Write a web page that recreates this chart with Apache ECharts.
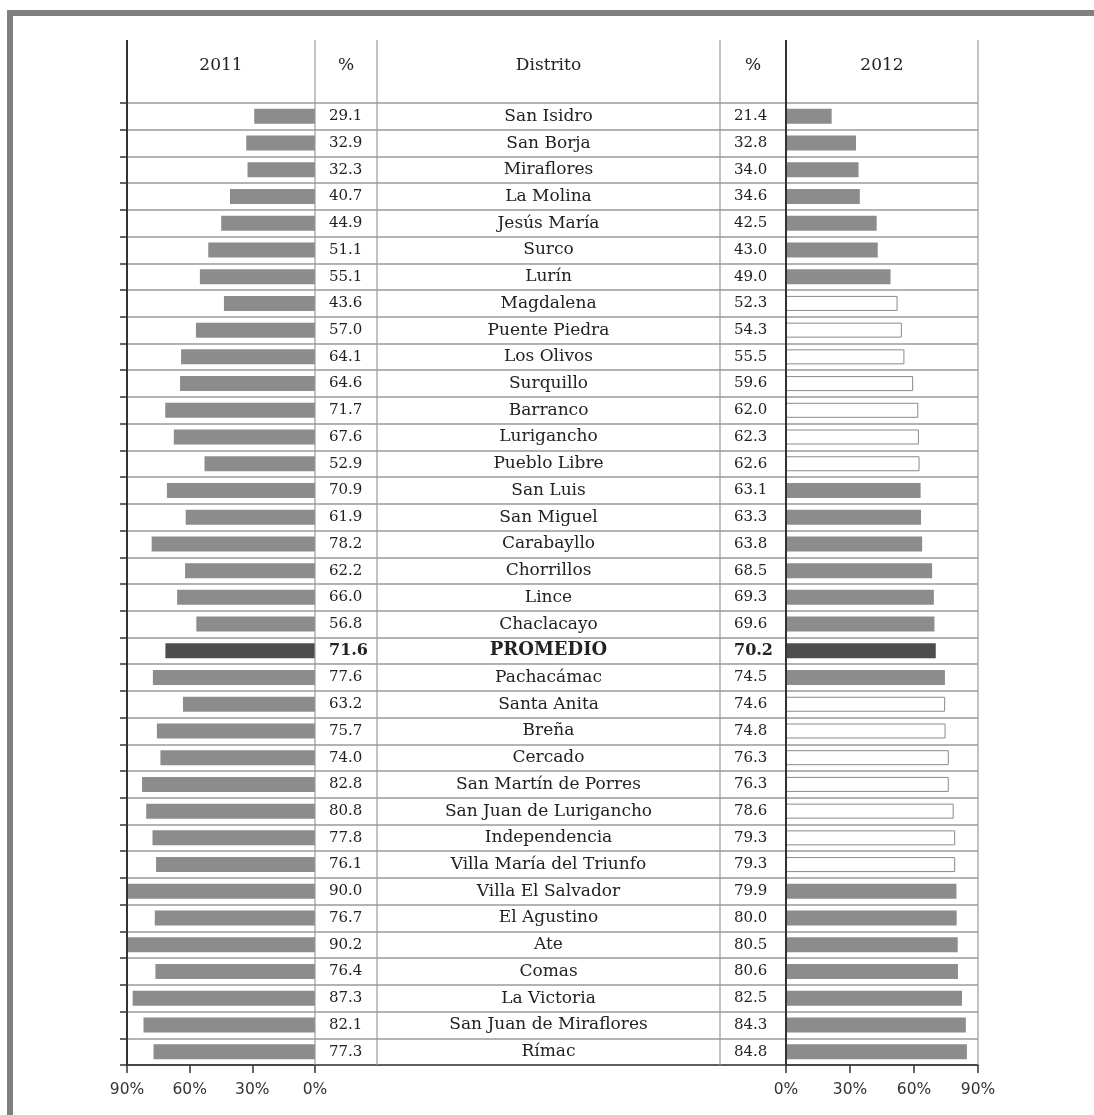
<!DOCTYPE html>
<html><head><meta charset="utf-8">
<script src="https://cdn.jsdelivr.net/npm/echarts@6/dist/echarts.min.js"></script>
<style>html,body{margin:0;padding:0;background:#fff}#c{width:1094px;height:1115px}</style>
</head><body><div id="c"></div>
<script>
// ---- data ----
const districts = ["San Isidro","San Borja","Miraflores","La Molina","Jesús María","Surco","Lurín","Magdalena","Puente Piedra","Los Olivos","Surquillo","Barranco","Lurigancho","Pueblo Libre","San Luis","San Miguel","Carabayllo","Chorrillos","Lince","Chaclacayo","PROMEDIO","Pachacámac","Santa Anita","Breña","Cercado","San Martín de Porres","San Juan de Lurigancho","Independencia","Villa María del Triunfo","Villa El Salvador","El Agustino","Ate","Comas","La Victoria","San Juan de Miraflores","Rímac"];
const pct2011 = [29.1,32.9,32.3,40.7,44.9,51.1,55.1,43.6,57.0,64.1,64.6,71.7,67.6,52.9,70.9,61.9,78.2,62.2,66.0,56.8,71.6,77.6,63.2,75.7,74.0,82.8,80.8,77.8,76.1,90.0,76.7,90.2,76.4,87.3,82.1,77.3];
const pct2012 = [21.4,32.8,34.0,34.6,42.5,43.0,49.0,52.3,54.3,55.5,59.6,62.0,62.3,62.6,63.1,63.3,63.8,68.5,69.3,69.6,70.2,74.5,74.6,74.8,76.3,76.3,78.6,79.3,79.3,79.9,80.0,80.5,80.6,82.5,84.3,84.8];
// f = filled grey, o = open (white), a = average
const style2012 = ["f","f","f","f","f","f","f","o","o","o","o","o","o","o","f","f","f","f","f","f","a","f","o","o","o","o","o","o","o","f","f","f","f","f","f","f"];
const headers = ["2011","%","Distrito","%","2012"];
const AVG = "PROMEDIO";
const axisMax = 90, axisStep = 30;

// ---- layout ----
const W = 1094, H = 1115;
const cols = [127, 315, 377, 720, 786, 978];
const headTop = 40, headMid = 66, tableTop = 103, tableBottom = 1065;
const FONT = "'DejaVu Serif', serif";
const GREY = '#8c8c8c', DARK = '#4d4d4d', RULE = '#9a9a9a', INK = '#222';

const gridOf = (a, b) => ({left: cols[a], width: cols[b] - cols[a], top: tableTop, height: tableBottom - tableTop});
const grids = [gridOf(0,1), gridOf(1,2), gridOf(2,3), gridOf(3,4), gridOf(4,5), gridOf(0,5)];

const valueAxis = (gi, inverse) => ({
  type: 'value', gridIndex: gi, min: 0, max: axisMax, interval: axisStep, inverse,
  axisLine: {show: true, lineStyle: {color: '#333', width: 1.5}},
  axisTick: {show: true, length: 8, lineStyle: {color: '#333', width: 1.5}},
  axisLabel: {formatter: '{value}%', fontFamily: "'DejaVu Sans', sans-serif", fontSize: 15.5, color: '#333', margin: 17},
  splitLine: {show: false}
});
const hiddenX = gi => ({type: 'value', gridIndex: gi, show: false, min: 0, max: 1});

const isAvg = i => districts[i] === AVG;
const textAxis = (gi, margin, align, size, fmt) => ({
  type: 'category', gridIndex: gi, data: districts, inverse: true,
  axisLine: {show: false}, axisTick: {show: false}, splitLine: {show: false},
  axisLabel: {
    show: true, inside: true, margin, align, interval: 0,
    fontFamily: FONT, fontSize: size, color: INK,
    formatter: (v, i) => isAvg(i) ? '{b|' + fmt(v, i) + '}' : fmt(v, i),
    rich: {b: {fontFamily: FONT, fontWeight: 'bold', fontSize: size + 1, color: INK}}
  }
});

const option = {
  animation: false,
  backgroundColor: '#fff',
  grid: grids,
  xAxis: [valueAxis(0, true), hiddenX(1), hiddenX(2), hiddenX(3), valueAxis(4, false),
    {type: 'value', gridIndex: 5, min: 0, max: 1, axisLabel: {show: false}, axisTick: {show: false}, splitLine: {show: false},
     axisLine: {show: true, lineStyle: {color: '#444', width: 1.5}}}],
  yAxis: [
    {type: 'category', gridIndex: 0, data: districts, inverse: true, show: false},
    textAxis(1, 14, 'left', 15, (v, i) => pct2011[i].toFixed(1)),
    textAxis(2, (cols[3] - cols[2]) / 2, 'center', 17, v => v),
    textAxis(3, 14, 'left', 15, (v, i) => pct2012[i].toFixed(1)),
    {type: 'category', gridIndex: 4, data: districts, inverse: true, show: false},
    {type: 'category', gridIndex: 5, data: districts, inverse: true,
     axisLine: {show: false}, axisLabel: {show: false},
     axisTick: {show: true, length: 7, lineStyle: {color: '#333', width: 1.5}},
     splitLine: {show: true, lineStyle: {color: RULE, width: 1.5}}}
  ],
  series: [
    {type: 'bar', xAxisIndex: 0, yAxisIndex: 0, barWidth: 15, z: 3,
     data: pct2011.map((v, i) => ({value: v, itemStyle: {color: isAvg(i) ? DARK : GREY}}))},
    {type: 'bar', xAxisIndex: 4, yAxisIndex: 4, barWidth: 15, z: 3,
     data: pct2012.map((v, i) => {
       const s = style2012[i];
       const itemStyle = s === 'a' ? {color: DARK} : s === 'o' ? {color: '#fff', borderColor: '#8a8a8a', borderWidth: 1} : {color: GREY};
       return {value: v, itemStyle};
     })}
  ],
  graphic: [
    // page frame
    {type: 'rect', shape: {x: 7, y: 10, width: W - 7, height: 6}, style: {fill: '#808080'}, silent: true},
    {type: 'rect', shape: {x: 7, y: 10, width: 6, height: H - 10}, style: {fill: '#808080'}, silent: true},
    // vertical table rules
    ...cols.map((x, k) => ({
      type: 'line', z: 10, silent: true,
      shape: {x1: x, y1: headTop, x2: x, y2: tableBottom},
      style: {stroke: (k === 0 || k === 4) ? '#333' : RULE, lineWidth: (k === 0 || k === 4) ? 2 : 1.2}
    })),
    // headers
    ...headers.map((t, k) => ({
      type: 'text', silent: true,
      x: (cols[k] + cols[k + 1]) / 2, y: headMid,
      style: {text: t, fill: INK, font: '17px ' + FONT, textAlign: 'center', textVerticalAlign: 'middle'}
    }))
  ]
};

const chart = echarts.init(document.getElementById('c'), null, {renderer: 'canvas'});
chart.setOption(option);
</script>
</body></html>
